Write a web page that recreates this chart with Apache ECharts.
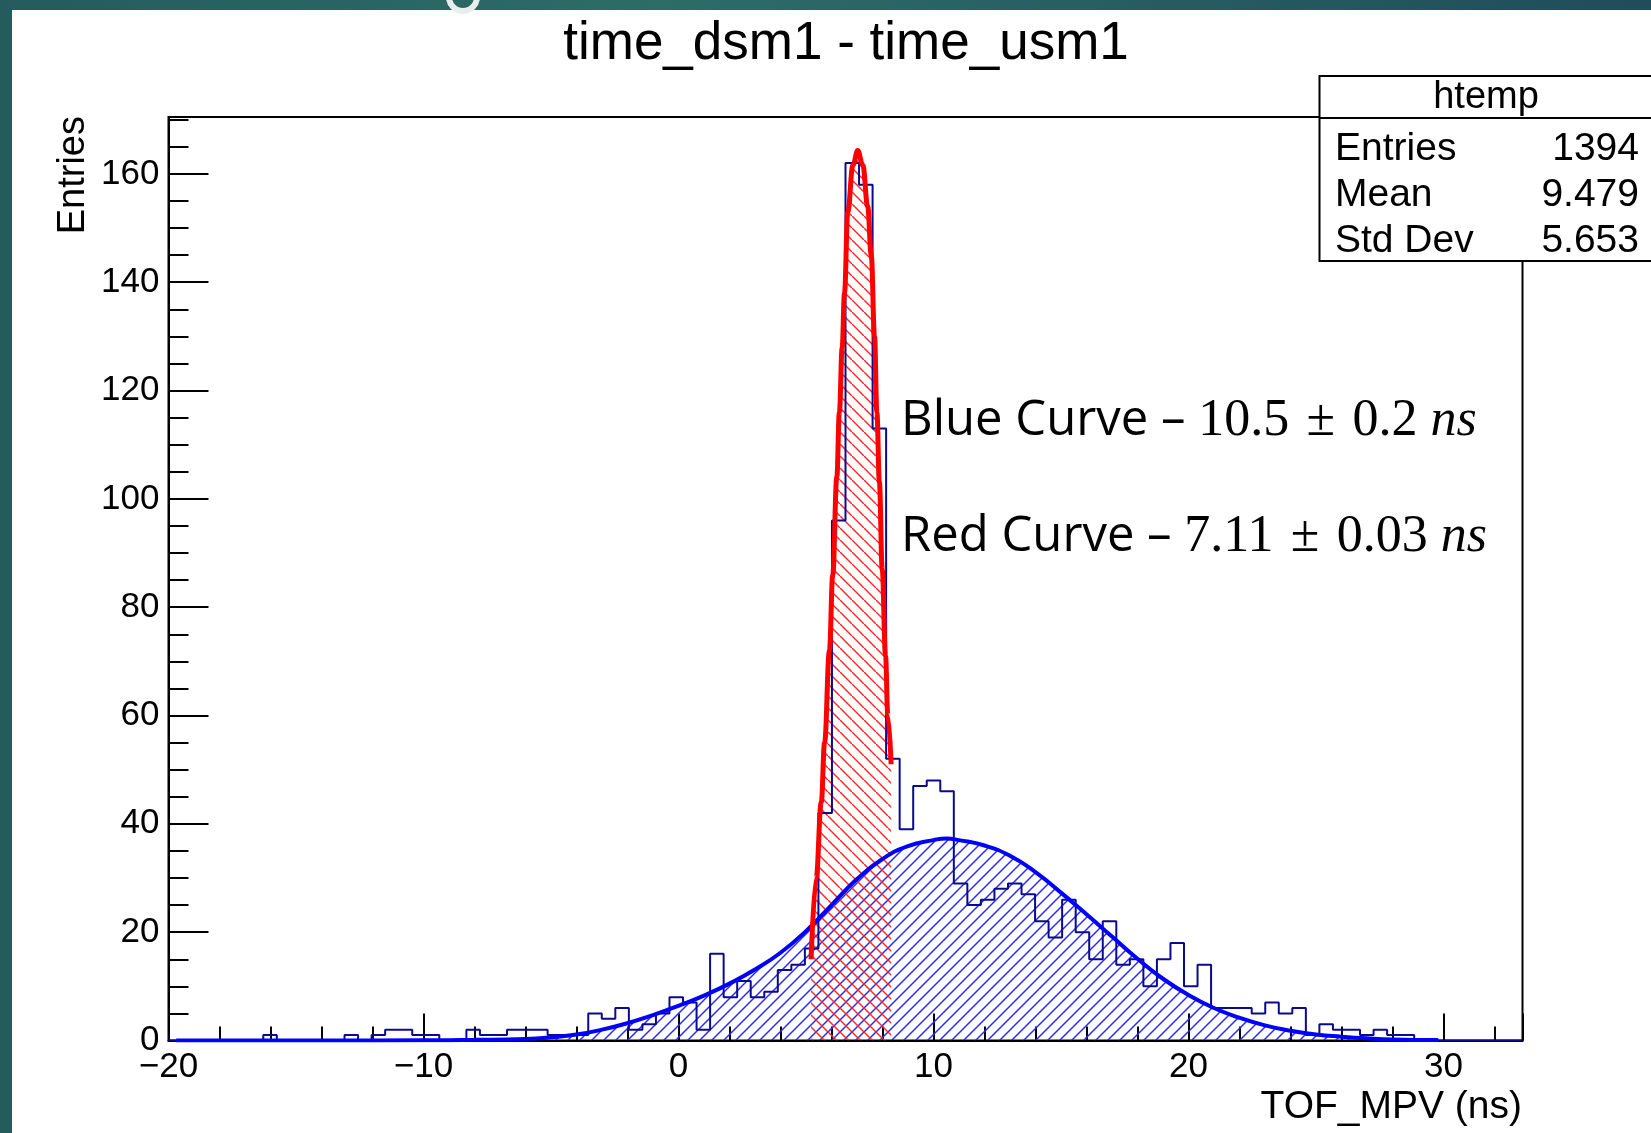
<!DOCTYPE html>
<html>
<head>
<meta charset="utf-8">
<script src="https://cdn.jsdelivr.net/npm/echarts@6/dist/echarts.min.js"></script>
<style>
html,body{margin:0;padding:0;background:#fff;}
#chart{width:1651px;height:1133px;}
</style>
</head>
<body>
<div id="chart"></div>
<script>
// ---- data ----
const histMin = -20;
const histMax = 33.1;
const histCounts = [
  0,0,0,0,0,0,0,1,0,0,
  0,0,0,1,0,1,2,2,1,1,
  0,0,2,1,1,2,2,2,1,1,
  1,5,4,6,2,3,5,8,7,2,
  16,8,11,8,9,13,14,17,42,96,
  162,158,113,52,39,47,48,46,29,25,
  26,28,29,27,22,19,26,20,15,22,
  14,15,10,15,18,10,14,6,6,6,
  5,7,5,6,1,3,2,2,1,2,
  1,1,0,0,0,0,0,0,0,0
];
const blueCurveX = [-19.7,-14,-10,-8,-6,-5,-4,-3,-2,-1,0,1,2,3,4,5,6,7,8,9,10,10.5,11,12,13,14,15,16,17,18,19,20,21,22,23,24,25,26,27,28,29.8];
const blueCurveY = [0,0.01,0.05,0.12,0.3,0.6,1.1,2.0,3.2,4.7,6.4,8.3,10.5,13.1,16.2,20.2,25.0,29.8,33.5,35.9,37.0,37.3,37.0,36.0,34.1,31.1,27.3,23.3,19.2,15.1,11.4,8.4,6.0,4.2,2.8,1.8,1.1,0.7,0.4,0.2,0.1];
const redCurveX = [5.20,5.40,5.60,5.73,5.92,6.05,6.21,6.31,6.42,6.51,6.64,6.84,7.03,7.23,7.42,7.56,7.69,7.78,7.88,7.99,8.12,8.21,8.34];
const redCurveY = [15,30,44,55,72,86,104,116,128,138,153,161.6,164.3,161.6,154,145,130,116,103,87,71,60,51];
const xTickLabels = ['\u221220','\u221210','0','10','20','30'];
const yTickLabels = ['0','20','40','60','80','100','120','140','160'];
const statsNames = ['Entries','Mean','Std Dev'];
const statsValues = ['1394','9.479','5.653'];

// ---- build series data ----
const nb = histCounts.length;
const bw = (histMax - histMin) / nb;
const histLine = [[histMin, 0]];
for (let i = 0; i < nb; i++) histLine.push([histMin + i * bw, histCounts[i]]);
histLine.push([histMax, histCounts[nb - 1]]);
histLine.push([histMax, 0]);
const blueData = blueCurveX.map((x, i) => [x, blueCurveY[i]]);
const redData = redCurveX.map((x, i) => [x, redCurveY[i]]);

function hatch(color, dir, s, lw) {
  const c = document.createElement('canvas');
  c.width = s; c.height = s;
  const ctx = c.getContext('2d');
  ctx.strokeStyle = color; ctx.lineWidth = lw;
  ctx.beginPath();
  if (dir > 0) {
    ctx.moveTo(0, s); ctx.lineTo(s, 0);
    ctx.moveTo(-s/2, s/2); ctx.lineTo(s/2, -s/2);
    ctx.moveTo(s/2, 1.5*s); ctx.lineTo(1.5*s, s/2);
  } else {
    ctx.moveTo(0, 0); ctx.lineTo(s, s);
    ctx.moveTo(-s/2, s/2); ctx.lineTo(s/2, 1.5*s);
    ctx.moveTo(s/2, -s/2); ctx.lineTo(1.5*s, s/2);
  }
  ctx.stroke();
  return c;
}

const FONT = 'Liberation Sans, Arial, Helvetica, sans-serif';
const GL = 168.5, GT = 117, GW = 1354, GH = 923.5;

const chart = echarts.init(document.getElementById('chart'), null, {renderer: 'canvas'});

function xFmt(v) {
  const k = Math.round((v - histMin) / 10);
  if (Math.abs(v - (histMin + k * 10)) > 1e-6) return '';
  return xTickLabels[k] !== undefined ? xTickLabels[k] : '';
}
function yFmt(v) {
  const k = Math.round(v / 20);
  if (Math.abs(v - k * 20) > 1e-6) return '';
  return yTickLabels[k] !== undefined ? yTickLabels[k] : '';
}

const statsGraphics = [];
const SX = 1319.5, SY = 76, SW = 345, SH = 185;
statsGraphics.push({type:'rect', shape:{x:SX, y:SY, width:SW, height:SH}, style:{fill:'#fff', stroke:'#000', lineWidth:2}, z:100});
statsGraphics.push({type:'line', shape:{x1:SX, y1:118, x2:SX+SW, y2:118}, style:{stroke:'#000', lineWidth:2}, z:101});
statsGraphics.push({type:'text', x:1486, y:98, style:{text:'htemp', font:'38px ' + FONT, fill:'#000', textAlign:'center', textVerticalAlign:'middle'}, z:101});
const rowsY = [149, 195, 241];
statsNames.forEach((n, i) => {
  statsGraphics.push({type:'text', x:1335, y:rowsY[i], style:{text:n, font:'39px ' + FONT, fill:'#000', textAlign:'left', textVerticalAlign:'middle'}, z:101});
  statsGraphics.push({type:'text', x:1639, y:rowsY[i], style:{text:statsValues[i], font:'39px ' + FONT, fill:'#000', textAlign:'right', textVerticalAlign:'middle'}, z:101});
});

const richStyles = {
  a:{font:'49px Open Sans', fill:'#000'},
  c:{font:'52px Liberation Serif', fill:'#000'},
  d:{font:'italic 52px Liberation Serif', fill:'#000'}
};
const SP = '\u2004';

const option = {
  animation: false,
  backgroundColor: '#fff',
  grid: {left: GL, top: GT, width: GW, height: GH, show: true, borderColor: '#000', borderWidth: 2, backgroundColor: 'transparent', containLabel: false},
  xAxis: [
    {type:'value', min:histMin, max:histMax, interval:10,
     axisLine:{show:true, onZero:false, lineStyle:{color:'#000', width:2}},
     axisTick:{show:true, inside:true, length:27, lineStyle:{color:'#000', width:2}},
     axisLabel:{show:true, margin:9, fontSize:35, fontFamily:FONT, color:'#000', formatter:xFmt},
     splitLine:{show:false}},
    {type:'value', min:histMin, max:histMax, interval:2, position:'bottom',
     axisLine:{show:false, onZero:false}, axisTick:{show:true, inside:true, length:14, lineStyle:{color:'#000', width:2}},
     axisLabel:{show:false}, splitLine:{show:false}}
  ],
  yAxis: [
    {type:'value', min:0, max:170.5, interval:20,
     axisLine:{show:true, onZero:false, lineStyle:{color:'#000', width:2}},
     axisTick:{show:true, inside:true, length:40, lineStyle:{color:'#000', width:2}},
     axisLabel:{show:true, margin:9, fontSize:35, fontFamily:FONT, color:'#000', formatter:yFmt},
     splitLine:{show:false}},
    {type:'value', min:0, max:170.5, interval:5, position:'left',
     axisLine:{show:false, onZero:false}, axisTick:{show:true, inside:true, length:20, lineStyle:{color:'#000', width:2}},
     axisLabel:{show:false}, splitLine:{show:false}}
  ],
  series: [
    {name:'blue fill', type:'line', data:blueData, smooth:0.5, symbol:'none',
     lineStyle:{width:0}, areaStyle:{color:{image:hatch('#2a2aff', 1, 12, 1.5), repeat:'repeat'}, opacity:1}, z:1, silent:true},
    {name:'red fill', type:'line', data:redData, smooth:0.4, smoothMonotone:'x', symbol:'none',
     lineStyle:{width:0}, areaStyle:{color:{image:hatch('#ff2a2a', -1, 12.5, 1.5), repeat:'repeat'}, opacity:1}, z:2, silent:true},
    {name:'htemp', type:'line', data:histLine, step:'end', symbol:'none',
     lineStyle:{color:'#0a0a90', width:2}, z:3},
    {name:'Blue Curve', type:'line', data:blueData, smooth:0.5, symbol:'none',
     lineStyle:{color:'#0000ff', width:4}, z:4},
    {name:'Red Curve', type:'line', data:redData, smooth:0.4, smoothMonotone:'x', symbol:'none',
     lineStyle:{color:'#ff0000', width:5}, z:5}
  ],
  graphic: [
    {type:'rect', shape:{x:0, y:0, width:1651, height:10}, z:-10,
     style:{fill:new echarts.graphic.LinearGradient(0,0,1,0,[{offset:0,color:'#245c5c'},{offset:0.4,color:'#2e6c68'},{offset:1,color:'#1f4d5a'}])}},
    {type:'rect', shape:{x:0, y:0, width:12, height:1133}, z:-10, style:{fill:'#245b5c'}},
    {type:'arc', shape:{cx:463, cy:-3, r:14, startAngle:0, endAngle:Math.PI}, z:-9, style:{stroke:'#e8eeee', lineWidth:6, fill:'none'}},
    {type:'text', x:846, y:44, style:{text:'time_dsm1 - time_usm1', font:'53px ' + FONT, fill:'#000', textAlign:'center', textVerticalAlign:'middle'}, z:50},
    {type:'text', x:74, y:116, rotation:Math.PI/2, style:{text:'Entries', font:'38px ' + FONT, fill:'#000', textAlign:'right', textVerticalAlign:'middle'}, z:50},
    {type:'text', x:1522, y:1107, style:{text:'TOF_MPV (ns)', font:'39px ' + FONT, fill:'#000', textAlign:'right', textVerticalAlign:'middle'}, z:50},
    {type:'text', x:901, y:421, z:50, style:{
      text:'{a|Blue Curve \u2013 }{c|10.5' + SP + '\u00b1' + SP + '0.2 }{d|ns}', textVerticalAlign:'middle', textAlign:'left', rich:richStyles}},
    {type:'text', x:901, y:537, z:50, style:{
      text:'{a|Red Curve \u2013 }{c|7.11' + SP + '\u00b1' + SP + '0.03 }{d|ns}', textVerticalAlign:'middle', textAlign:'left', rich:richStyles}}
  ].concat(statsGraphics)
};
chart.setOption(option);
</script>
</body>
</html>
